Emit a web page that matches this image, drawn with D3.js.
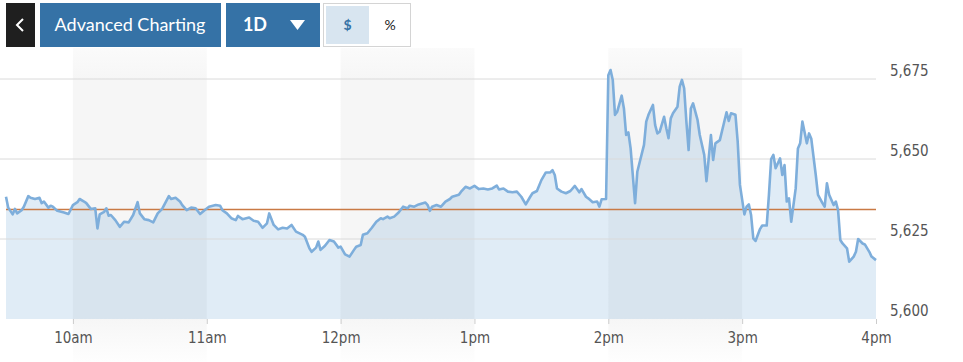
<!DOCTYPE html>
<html>
<head>
<meta charset="utf-8">
<script src="https://cdn.jsdelivr.net/npm/d3@7"></script>
<style>
  body { margin: 0; background: #fff; }
  svg { display: block; }
</style>
</head>
<body>
<script>
// minutes after the 9:30 open, and the index level at that minute
const minutes = [0,1,3,4,5,7,8,10,11,13,15,16,17,19,20,21,23,26,28,30,32,33,35,36,38,40,41,42,44,45,46,47,49,51,53,55,57,59,60,62,64,66,68,70,73,74,76,78,79,81,83,85,87,89,91,94,96,97,99,101,103,104,106,109,111,113,115,117,118,120,122,124,126,128,130,133,134,136,137,139,140,141,143,145,147,149,150,152,154,156,157,159,160,162,164,166,168,169,171,172,174,176,178,180,181,183,185,188,189,190,191,193,195,197,199,200,203,204,206,208,210,212,214,216,218,220,221,223,225,227,229,231,233,235,236,238,240,242,244,245,246,247,249,251,253,255,257,258,260,261,263,265,266,267,269,270,271,272,273,274,276,277,278,279,280,282,283,286,287,288,290,291,292,293,295,296,297,298,299,301,302,303,304,305,306,307,308,310,311,313,314,315,316,317,318,320,322,323,324,325,327,328,329,331,332,333,334,335,336,338,339,341,342,343,344,345,347,348,349,350,351,352,354,355,356,357,359,360,361,363,364,366,367,368,369,371,372,373,374,375,377,378,380,381,382,384,385,387,388,390];
const prices = [5638.2,5634.8,5632.7,5634.4,5633.0,5634.0,5635.1,5638.4,5637.9,5637.5,5637.9,5636.2,5636.7,5634.8,5635.4,5635.1,5633.8,5633.3,5632.8,5635.6,5636.5,5637.5,5636.7,5636.2,5634.4,5634.6,5628.3,5632.7,5633.5,5634.6,5632.3,5632.5,5630.9,5628.8,5630.4,5630.2,5632.5,5636.5,5633.0,5631.2,5630.9,5630.2,5633.0,5634.4,5638.4,5637.5,5637.9,5636.7,5635.6,5634.0,5634.8,5634.6,5632.8,5634.0,5635.1,5635.6,5635.4,5634.0,5633.0,5631.5,5630.9,5632.2,5631.2,5631.7,5630.7,5630.4,5628.5,5629.9,5633.0,5629.4,5628.0,5628.5,5628.3,5629.4,5627.3,5626.3,5625.7,5622.1,5621.0,5622.3,5624.2,5621.6,5622.9,5624.7,5624.2,5622.3,5622.6,5620.2,5619.5,5621.6,5622.6,5623.1,5626.3,5626.8,5628.5,5630.4,5631.5,5631.2,5632.0,5631.5,5632.0,5633.3,5635.1,5634.6,5635.4,5635.1,5635.8,5636.4,5635.6,5633.8,5635.1,5635.6,5635.1,5636.7,5637.5,5638.2,5638.8,5639.8,5641.3,5640.8,5641.6,5640.6,5640.8,5640.5,5640.8,5641.7,5640.5,5640.8,5639.8,5639.6,5639.8,5638.2,5635.8,5638.2,5639.3,5640.0,5643.4,5645.8,5645.8,5646.5,5645.0,5640.8,5639.8,5639.3,5640.0,5641.6,5639.6,5640.6,5638.2,5637.7,5636.5,5636.7,5635.1,5637.4,5637.5,5676.2,5677.8,5674.7,5663.8,5664.8,5669.8,5665.8,5657.5,5658.3,5653.3,5636.2,5646.0,5654.4,5661.7,5663.8,5666.9,5660.6,5658.0,5658.5,5663.2,5659.6,5656.5,5662.7,5664.3,5666.3,5672.6,5674.7,5672.1,5661.7,5652.8,5665.8,5667.4,5662.2,5657.5,5651.3,5643.1,5650.2,5657.5,5649.7,5654.9,5655.9,5661.7,5664.6,5661.9,5664.3,5663.8,5655.4,5641.9,5632.7,5635.1,5635.8,5632.5,5625.2,5624.4,5628.1,5629.2,5629.2,5638.8,5650.0,5651.3,5647.1,5650.2,5645.0,5648.1,5636.7,5637.7,5630.4,5640.8,5653.3,5654.9,5661.7,5654.9,5658.0,5656.3,5645.0,5638.8,5636.2,5635.1,5642.4,5638.8,5635.6,5636.7,5634.0,5624.7,5623.6,5622.1,5617.9,5619.5,5621.0,5625.0,5623.6,5623.3,5621.0,5619.5,5618.4];
const previousClose = 5634.2;
const yTicks = [5600, 5625, 5650, 5675];
const xTickHours = [10, 11, 12, 13, 14, 15, 16];
const shadedHours = [[10, 11], [12, 13], [14, 15]];

const width = 963;
const height = 362;
const margin = { top: 79, right: 87, bottom: 43, left: 6 };

const svg = d3.select('body')
    .append('svg')
    .attr('width', width)
    .attr('height', height);

const day = (h, m) => new Date(2024, 7, 1, h, m);
const data = minutes.map((m, i) => ({ time: day(9, 30 + m), price: prices[i] }));

const x = d3.scaleTime()
    .domain([day(9, 30), day(16, 0)])
    .range([margin.left, width - margin.right]);

const y = d3.scaleLinear()
    .domain([5600, 5675])
    .range([height - margin.bottom, margin.top]);

// fading band background
const defs = svg.append('defs');
const bandGrad = defs.append('linearGradient')
    .attr('id', 'bandGrad')
    .attr('x1', 0).attr('y1', 0).attr('x2', 0).attr('y2', 1);
bandGrad.append('stop').attr('offset', '0%').attr('stop-color', '#f6f6f6').attr('stop-opacity', 0.5);
bandGrad.append('stop').attr('offset', '10%').attr('stop-color', '#f6f6f6').attr('stop-opacity', 1);
bandGrad.append('stop').attr('offset', '86%').attr('stop-color', '#f6f6f6').attr('stop-opacity', 1);
bandGrad.append('stop').attr('offset', '100%').attr('stop-color', '#f6f6f6').attr('stop-opacity', 0.1);

svg.selectAll('.band')
    .data(shadedHours)
    .enter()
    .append('rect')
    .attr('class', 'band')
    .attr('x', d => x(day(d[0], 0)))
    .attr('y', 48)
    .attr('width', d => x(day(d[1], 0)) - x(day(d[0], 0)))
    .attr('height', height - 48)
    .attr('fill', 'url(#bandGrad)');

// area under the line
const area = d3.area()
    .x(d => x(d.time))
    .y0(y(5600))
    .y1(d => y(d.price));

svg.append('path')
    .datum(data)
    .attr('d', area)
    .attr('fill', 'rgb(100,160,210)')
    .attr('fill-opacity', 0.2);

// gridlines
svg.selectAll('.grid')
    .data(yTicks.filter(t => t > 5600))
    .enter()
    .append('line')
    .attr('class', 'grid')
    .attr('x1', 0)
    .attr('x2', width - margin.right)
    .attr('y1', d => y(d))
    .attr('y2', d => y(d))
    .attr('stroke', '#dadada')
    .attr('stroke-width', 1);

// previous close line
svg.append('line')
    .attr('x1', margin.left)
    .attr('x2', width - margin.right)
    .attr('y1', y(previousClose))
    .attr('y2', y(previousClose))
    .attr('stroke', '#c97a45')
    .attr('stroke-width', 1.6);

// price line
const line = d3.line()
    .x(d => x(d.time))
    .y(d => y(d.price));

svg.append('path')
    .datum(data)
    .attr('d', line)
    .attr('fill', 'none')
    .attr('stroke', '#7eaedb')
    .attr('stroke-width', 2.6)
    .attr('stroke-linejoin', 'round');

// x axis
const xAxis = d3.axisBottom(x)
    .tickValues(xTickHours.map(h => day(h, 0)))
    .tickSize(5)
    .tickFormat(d => d3.timeFormat('%-I%p')(d).toLowerCase());

const gx = svg.append('g')
    .attr('transform', `translate(0, ${height - margin.bottom})`)
    .call(xAxis);
gx.select('.domain').remove();
gx.selectAll('line').attr('stroke', '#ccc');
gx.selectAll('text')
    .attr('dy', '1.05em')
    .attr('fill', '#555')
    .style('font-family', '"Liberation Sans Narrow", "DejaVu Sans Condensed", sans-serif')
    .style('font-size', '15px');

// y labels on the right
svg.selectAll('.ylab')
    .data(yTicks)
    .enter()
    .append('text')
    .attr('class', 'ylab')
    .attr('x', 890)
    .attr('y', d => y(d) - 3)
    .attr('fill', '#555')
    .style('font-family', '"Liberation Sans Narrow", "DejaVu Sans Condensed", sans-serif')
    .style('font-size', '15px')
    .text(d => d3.format(',')(d));

// toolbar buttons
const bar = svg.append('g');
bar.append('rect').attr('x', 6).attr('y', 3).attr('width', 29).attr('height', 44).attr('fill', '#1f1f1f');
bar.append('path')
    .attr('d', 'M23,19 L17,25 L23,31')
    .attr('fill', 'none')
    .attr('stroke', '#fff')
    .attr('stroke-width', 2);

bar.append('rect').attr('x', 40).attr('y', 3).attr('width', 181).attr('height', 44).attr('fill', '#3572a6');
bar.append('text')
    .attr('x', 130).attr('y', 31)
    .attr('text-anchor', 'middle')
    .attr('fill', '#fff')
    .style('font-family', 'Lato, sans-serif')
    .style('font-size', '18px')
    .text('Advanced Charting');

bar.append('rect').attr('x', 226).attr('y', 3).attr('width', 94).attr('height', 44).attr('fill', '#3572a6');
bar.append('text')
    .attr('x', 255).attr('y', 31)
    .attr('text-anchor', 'middle')
    .attr('fill', '#fff')
    .style('font-family', 'Lato, sans-serif')
    .style('font-weight', 'bold')
    .style('font-size', '18px')
    .text('1D');
bar.append('path')
    .attr('d', 'M290,20 L305,20 L297.5,30 Z')
    .attr('fill', '#fff');

bar.append('rect').attr('x', 323.5).attr('y', 3.5).attr('width', 87).attr('height', 43)
    .attr('fill', '#fff').attr('stroke', '#d4d4d4');
bar.append('rect').attr('x', 326).attr('y', 6).attr('width', 43).attr('height', 38).attr('fill', '#d8e5f0');
bar.append('text')
    .attr('x', 347.5).attr('y', 30)
    .attr('text-anchor', 'middle')
    .attr('fill', '#3572a6')
    .style('font-family', 'Lato, sans-serif')
    .style('font-weight', 'bold')
    .style('font-size', '14px')
    .text('$');
bar.append('text')
    .attr('x', 390).attr('y', 30)
    .attr('text-anchor', 'middle')
    .attr('fill', '#222')
    .style('font-family', 'Lato, sans-serif')
    .style('font-size', '14px')
    .text('%');
</script>
</body>
</html>
